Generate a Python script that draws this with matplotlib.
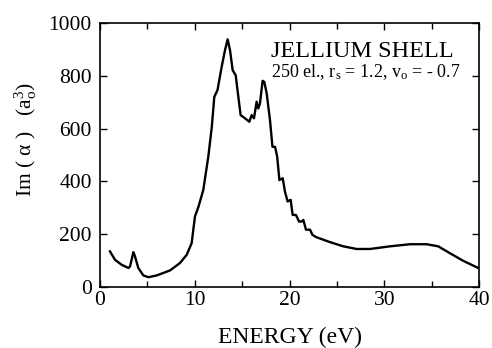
import matplotlib
matplotlib.use("Agg")
from matplotlib import pyplot as plt
from matplotlib.ticker import MultipleLocator

plt.rcParams["font.family"] = ["Liberation Serif", "DejaVu Serif"]
plt.rcParams["mathtext.fontset"] = "custom"
plt.rcParams["mathtext.rm"] = "Liberation Serif"
plt.rcParams["mathtext.it"] = "Liberation Serif:italic"

# values
energy = [1.05, 1.58, 2.29, 3.0, 3.17, 3.52, 3.69, 4.04, 4.57, 5.1, 6.0, 7.4,
          8.44, 9.15, 9.67, 10.02, 10.4, 10.9, 11.43, 11.8, 12.06, 12.4, 12.84,
          13.19, 13.47, 13.72, 14.0, 14.32, 14.6, 14.84, 15.3, 15.76, 16.0,
          16.25, 16.53, 16.7, 16.88, 17.16, 17.34, 17.59, 17.94, 18.2, 18.47,
          18.7, 18.93, 19.28, 19.52, 19.8, 20.12, 20.33, 20.68, 21.0, 21.28,
          21.46, 21.74, 22.17, 22.41, 22.8, 24.27, 25.68, 27.08, 28.49, 30.6,
          32.7, 34.47, 35.7, 36.93, 38.34, 39.92]
im_alpha = [135, 103, 84, 72, 78, 132, 116, 72, 44, 37, 44, 63,
            91, 122, 166, 267, 305, 368, 494, 607, 720, 746, 834,
            897, 938, 897, 821, 802, 720, 651, 639, 626, 651,
            639, 702, 676, 695, 781, 777, 733, 632, 531, 531,
            494, 405, 412, 361, 324, 330, 273, 273, 248, 248,
            254, 217, 217, 198, 189, 170, 154, 144, 144, 154,
            162, 162, 154, 128, 99, 72]

fig = plt.figure(figsize=(4.92, 3.48), dpi=100)
ax = fig.add_axes([0.2033, 0.1753, 0.7703, 0.7586])

ax.plot(energy, im_alpha, "-", color="black", lw=1.7)

ax.set_xlim(0, 40)
ax.set_ylim(0, 1000)
ax.xaxis.set_major_locator(MultipleLocator(10))
ax.xaxis.set_minor_locator(MultipleLocator(5))
ax.yaxis.set_major_locator(MultipleLocator(200))
ax.tick_params(which="both", direction="in", top=True, right=True,
               labelsize=15.5, width=1)
ax.tick_params(which="major", length=5)
ax.tick_params(which="minor", length=4)
ax.tick_params(axis="x", pad=3)
ax.tick_params(axis="y", pad=6)
for s in ax.spines.values():
    s.set_linewidth(1.2)

ax.set_xlabel("ENERGY (eV)", fontsize=17, labelpad=12)
ax.set_ylabel(r"Im ( α )   (a$_\mathrm{o}^\mathrm{3}$)", fontsize=15.5)
ax.yaxis.set_label_coords(-0.162, 0.56)

ax.text(0.451, 0.871, "JELLIUM SHELL", transform=ax.transAxes,
        fontsize=17.5, va="baseline", ha="left")
ax.text(0.451, 0.795,
        r"250 el., r$_\mathrm{s}$ = 1.2, v$_\mathrm{o}$ = - 0.7",
        transform=ax.transAxes, fontsize=13, va="baseline", ha="left")

fig.savefig("out.png", dpi=100)
